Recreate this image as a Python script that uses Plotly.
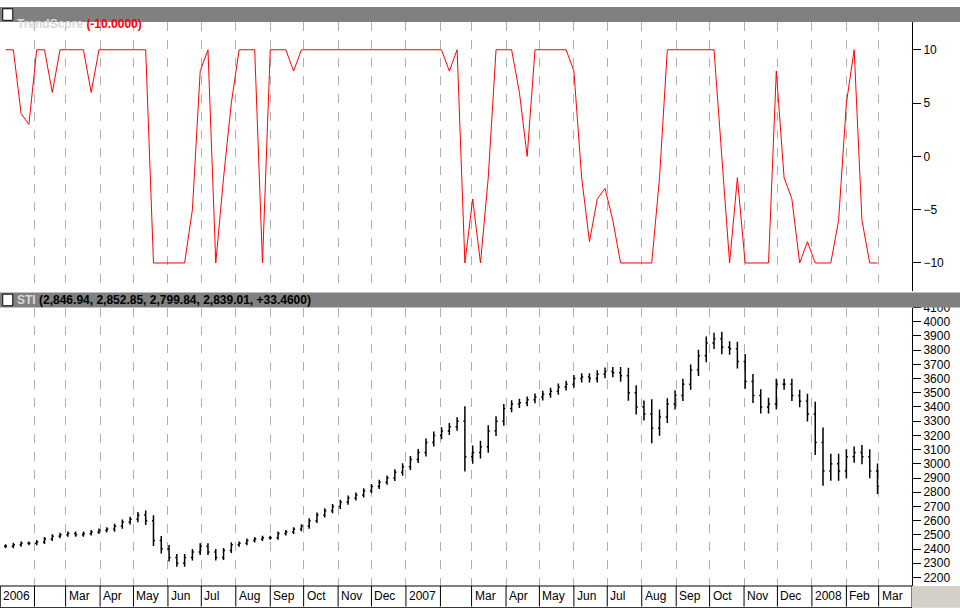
import plotly.graph_objects as go
from plotly.subplots import make_subplots
import pandas as pd

# weekly samples (Friday closes), starting first week of Jan 2006
weeks = pd.date_range("2006-01-06", periods=113, freq="W-FRI")

trend_score = [
    10, 10, 4, 3, 10, 10, 6, 10, 10, 10, 10, 6, 10, 10, 10, 10, 10, 10, 10, -10,
    -10, -10, -10, -10, -5, 8, 10, -10, -2, 5, 10, 10, 10, -10, 10, 10, 10, 8, 10, 10,
    10, 10, 10, 10, 10, 10, 10, 10, 10, 10, 10, 10, 10, 10, 10, 10, 10, 8, 10, -10,
    -4, -10, -2, 10, 10, 10, 6, 0, 10, 10, 10, 10, 10, 8, -2, -8, -4, -3, -6, -10,
    -10, -10, -10, -10, -2, 10, 10, 10, 10, 10, 10, 10, 0, -10, -2, -10, -10, -10, -10, 8,
    -2, -4, -10, -8, -10, -10, -10, -6, 5, 10, -6, -10, -10,
]

sti_close = [
    2420, 2430, 2440, 2440, 2450, 2470, 2490, 2500, 2510, 2500, 2510, 2520, 2530, 2540, 2560, 2590, 2610, 2640, 2600, 2460,
    2400, 2340, 2300, 2340, 2380, 2420, 2380, 2340, 2390, 2430, 2440, 2460, 2470, 2480, 2480, 2510, 2520, 2540, 2560, 2600,
    2640, 2670, 2700, 2730, 2760, 2780, 2810, 2840, 2870, 2900, 2940, 2980, 3030, 3080, 3150, 3200, 3230, 3260, 3300, 3050,
    3080, 3120, 3230, 3300, 3390, 3420, 3430, 3450, 3470, 3490, 3510, 3540, 3560, 3600, 3610, 3600, 3630, 3650, 3640, 3620,
    3500, 3400, 3350, 3250, 3330, 3420, 3480, 3560, 3660, 3760, 3850, 3880, 3820, 3810, 3720, 3580, 3480, 3400, 3420, 3560,
    3560, 3480, 3440, 3350, 3150, 2950, 3000, 2950, 3050, 3080, 3050, 2950, 2840,
]

sti_range = [
    40, 40, 40, 40, 40, 40, 40, 40, 40, 40, 40, 40, 40, 40, 50, 50, 50, 60, 90, 110,
    90, 80, 70, 70, 60, 60, 60, 60, 50, 50, 40, 40, 40, 40, 40, 40, 40, 40, 40, 50,
    50, 50, 50, 50, 50, 50, 50, 50, 50, 50, 60, 70, 70, 70, 80, 80, 80, 80, 80, 300,
    140, 120, 120, 100, 90, 80, 80, 70, 70, 70, 70, 70, 70, 70, 80, 80, 80, 80, 90, 120,
    160, 150, 130, 300, 150, 120, 110, 110, 110, 120, 130, 120, 140, 120, 140, 150, 150, 130, 130, 110,
    110, 110, 120, 150, 250, 300, 200, 200, 150, 120, 150, 150, 150,
]

sti_open = [sti_close[0]] + sti_close[:-1]
sti_high = [max(o, c) + r * 0.35 for o, c, r in zip(sti_open, sti_close, sti_range)]
sti_low = [min(o, c) - r * 0.35 for o, c, r in zip(sti_open, sti_close, sti_range)]

months = pd.date_range("2006-01-01", "2008-03-01", freq="MS")
month_labels = []
for m in months:
    if m.month == 1:
        month_labels.append(str(m.year))
    elif m.month == 2 and m.year < 2008:
        month_labels.append("")
    else:
        month_labels.append(m.strftime("%b"))

fig = make_subplots(rows=2, cols=1, shared_xaxes=True, vertical_spacing=0)

fig.add_trace(go.Scatter(x=weeks, y=trend_score, mode="lines",
                         line=dict(color="#ff0000", width=1, shape="linear")), row=1, col=1)
fig.add_trace(go.Ohlc(x=weeks, open=sti_open, high=sti_high, low=sti_low, close=sti_close,
                      increasing_line_color="black", decreasing_line_color="black",
                      line_width=1.5, tickwidth=0.2), row=2, col=1)

xrange = ["2006-01-01", "2008-03-31"]
grid = dict(showgrid=True, gridcolor="#b0b0b0", griddash="dash", gridwidth=1,
            tickvals=months, showticklabels=False, range=xrange, ticks="",
            zeroline=False, showline=False)
fig.update_xaxes(**grid)
fig.update_xaxes(rangeslider_visible=False, row=2, col=1)

yax = dict(side="right", showgrid=False, zeroline=False, showline=True, linecolor="black",
           ticks="outside", ticklen=8, tickcolor="black", mirror=False,
           tickfont=dict(family="Arial", size=12, color="black"))
fig.update_yaxes(**yax)
fig.update_layout(
    yaxis=dict(domain=[0.510, 0.974], range=[-12.6, 12.6], tickvals=[-10, -5, 0, 5, 10]),
    yaxis2=dict(domain=[0.0, 0.481], range=[2140, 4100], dtick=100),
)

ann = []
for m, lab in zip(months, month_labels):
    ann.append(dict(x=m, xref="x2", y=-0.002, yref="paper", text=lab, showarrow=False,
                    xanchor="left", yanchor="top", xshift=1,
                    font=dict(family="Arial", size=12, color="black")))
    ann.append(dict(x=m, xref="x2", y=-0.0, yref="paper", ax=0, ay=22, showarrow=True,
                    arrowhead=0, arrowwidth=1, arrowcolor="black", text=""))

# panel headers
shapes = [
    dict(type="rect", xref="paper", yref="paper", x0=0, x1=1.053, y0=0.974, y1=1.0,
         fillcolor="#808080", line_width=0),
    dict(type="rect", xref="paper", yref="paper", x0=0, x1=1.053, y0=0.481, y1=0.507,
         fillcolor="#808080", line_width=0),
    dict(type="rect", xref="paper", yref="paper", x0=0.003, x1=0.014, y0=0.977, y1=0.997,
         fillcolor="white", line=dict(color="black", width=1)),
    dict(type="rect", xref="paper", yref="paper", x0=0.003, x1=0.014, y0=0.484, y1=0.504,
         fillcolor="white", line=dict(color="black", width=1)),
    dict(type="rect", xref="paper", yref="paper", x0=0, x1=1.0, y0=-0.0375, y1=0,
         fillcolor="white", line=dict(color="black", width=1)),
    dict(type="rect", xref="paper", yref="paper", x0=1.0, x1=1.053, y0=-0.0375, y1=0,
         fillcolor="#d4d0c8", line_width=0),
]
ann.append(dict(x=0.016, y=0.987, xref="paper", yref="paper", showarrow=False, xanchor="left",
                text="<b><span style='color:#d8d8d8'>TrendScore</span> <span style='color:#ff0000'>(-10.0000)</span></b>",
                font=dict(family="Arial", size=12)))
ann.append(dict(x=0.016, y=0.494, xref="paper", yref="paper", showarrow=False, xanchor="left",
                text="<b><span style='color:#d8d8d8'>STI</span> <span style='color:black'>(2,846.94, 2,852.85, 2,799.84, 2,839.01, +33.4600)</span></b>",
                font=dict(family="Arial", size=12)))

fig.update_layout(
    width=960, height=608, showlegend=False,
    margin=dict(l=0, r=48, t=0, b=22),
    plot_bgcolor="white", paper_bgcolor="white",
    shapes=shapes, annotations=ann,
)

fig.write_html("out.html", config={"displayModeBar": False},
               post_script="document.body.style.margin='0';document.body.style.overflow='hidden';")
